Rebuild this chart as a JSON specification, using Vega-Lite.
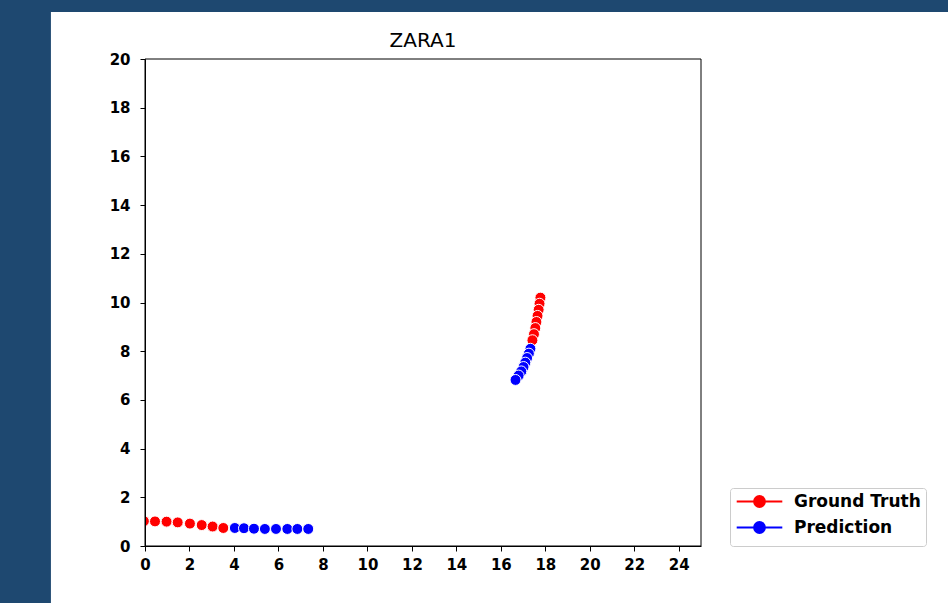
{
  "$schema": "https://vega.github.io/schema/vega-lite/v6.json",
  "width": 556,
  "height": 487,
  "autosize": {"type": "none"},
  "padding": {"left": 145, "top": 59, "right": 247, "bottom": 57},
  "background": "#1e4870",
  "config": {
    "view": {"stroke": null},
    "font": "DejaVu Sans",
    "axis": {"grid": false, "tickSize": 5, "tickColor": "black", "domainColor": "black", "labelColor": "black", "labelFont": "DejaVu Sans", "labelFontWeight": "bold", "labelFontSize": 15, "labelFlush": false, "labelOverlap": false},
    "axisX": {"labelPadding": 6},
    "axisY": {"labelPadding": 10},
    "legend": {"orient": "none", "legendX": 585,
      "symbolType": "M-3.8,0L3.8,0M-0.9,0A0.9,0.9,0,1,1,0.9,0A0.9,0.9,0,1,1,-0.9,0Z",
      "symbolSize": 144, "symbolStrokeWidth": 2, "symbolOffset": 16, "labelOffset": 26,
      "labelFont": "DejaVu Sans", "labelFontWeight": "bold", "labelFontSize": 17, "labelColor": "black", "labelBaseline": "middle",
      "rowPadding": 9, "padding": 5, "cornerRadius": 3}
  },
  "title": {"text": "ZARA1", "fontSize": 20, "fontWeight": "normal", "font": "DejaVu Sans", "color": "black", "baseline": "alphabetic", "offset": -55, "anchor": "middle", "frame": "group", "zindex": 1},
  "datasets": {
    "traj": [
      {"x": -0.05, "y": 1.02, "series": "Ground Truth"},
      {"x": 0.45, "y": 1.01, "series": "Ground Truth"},
      {"x": 0.97, "y": 1.0, "series": "Ground Truth"},
      {"x": 1.47, "y": 0.97, "series": "Ground Truth"},
      {"x": 2.02, "y": 0.92, "series": "Ground Truth"},
      {"x": 2.55, "y": 0.86, "series": "Ground Truth"},
      {"x": 3.04, "y": 0.8, "series": "Ground Truth"},
      {"x": 3.52, "y": 0.74, "series": "Ground Truth"},
      {"x": 4.04, "y": 0.74, "series": "Prediction"},
      {"x": 4.45, "y": 0.73, "series": "Prediction"},
      {"x": 4.9, "y": 0.71, "series": "Prediction"},
      {"x": 5.39, "y": 0.7, "series": "Prediction"},
      {"x": 5.89, "y": 0.7, "series": "Prediction"},
      {"x": 6.4, "y": 0.7, "series": "Prediction"},
      {"x": 6.85, "y": 0.7, "series": "Prediction"},
      {"x": 7.34, "y": 0.7, "series": "Prediction"},
      {"x": 17.78, "y": 10.2, "series": "Ground Truth"},
      {"x": 17.74, "y": 9.95, "series": "Ground Truth"},
      {"x": 17.7, "y": 9.7, "series": "Ground Truth"},
      {"x": 17.65, "y": 9.45, "series": "Ground Truth"},
      {"x": 17.6, "y": 9.2, "series": "Ground Truth"},
      {"x": 17.55, "y": 8.95, "series": "Ground Truth"},
      {"x": 17.49, "y": 8.7, "series": "Ground Truth"},
      {"x": 17.42, "y": 8.45, "series": "Ground Truth"},
      {"x": 17.33, "y": 8.1, "series": "Prediction"},
      {"x": 17.26, "y": 7.9, "series": "Prediction"},
      {"x": 17.18, "y": 7.72, "series": "Prediction"},
      {"x": 17.1, "y": 7.53, "series": "Prediction"},
      {"x": 17.02, "y": 7.35, "series": "Prediction"},
      {"x": 16.92, "y": 7.17, "series": "Prediction"},
      {"x": 16.8, "y": 7.0, "series": "Prediction"},
      {"x": 16.66, "y": 6.82, "series": "Prediction"}
    ],
    "panel": [{"x1": -4.23, "x2": 37, "y1": -3, "y2": 21.93}],
    "frame": [{"x1": 0, "x2": 25, "y1": 0, "y2": 20}]
  },
  "resolve": {"scale": {"color": "independent"}, "legend": {"color": "independent"}},
  "layer": [
    {
      "data": {"name": "panel"},
      "mark": {"type": "rect", "fill": "white", "clip": false},
      "encoding": {
        "x": {"field": "x1", "type": "quantitative", "axis": {"title": null, "zindex": 1}, "scale": {"domain": [0, 25], "nice": false, "zero": false}},
        "x2": {"field": "x2"},
        "y": {"field": "y1", "type": "quantitative", "axis": {"title": null, "zindex": 1}, "scale": {"domain": [0, 20], "nice": false, "zero": false}},
        "y2": {"field": "y2"}
      }
    },
    {
      "data": {"name": "traj"},
      "transform": [{"filter": "datum.series === 'Ground Truth'"}],
      "mark": {"type": "point", "filled": true, "size": 120, "stroke": "white", "strokeWidth": 1, "opacity": 1, "clip": true},
      "encoding": {
        "x": {"field": "x", "type": "quantitative", "axis": {"title": null, "zindex": 1}, "scale": {"domain": [0, 25], "nice": false, "zero": false}},
        "y": {"field": "y", "type": "quantitative", "axis": {"title": null, "zindex": 1}, "scale": {"domain": [0, 20], "nice": false, "zero": false}},
        "color": {"field": "series", "type": "nominal",
          "scale": {"domain": ["Ground Truth"], "range": ["#ff0000"]},
          "legend": {"legendY": 429, "title": "\u00a0", "titleOrient": "bottom", "titleFontSize": 22, "titlePadding": 9, "symbolStrokeColor": "#ff0000", "strokeColor": "#cccccc", "fillColor": "white", "zindex": 2}}
      }
    },
    {
      "data": {"name": "traj"},
      "transform": [{"filter": "datum.series === 'Prediction'"}],
      "mark": {"type": "point", "filled": true, "size": 120, "stroke": "white", "strokeWidth": 1, "opacity": 1, "clip": true},
      "encoding": {
        "x": {"field": "x", "type": "quantitative", "axis": {"title": null, "zindex": 1}, "scale": {"domain": [0, 25], "nice": false, "zero": false}},
        "y": {"field": "y", "type": "quantitative", "axis": {"title": null, "zindex": 1}, "scale": {"domain": [0, 20], "nice": false, "zero": false}},
        "color": {"field": "series", "type": "nominal",
          "scale": {"domain": ["Prediction"], "range": ["#0000ff"]},
          "legend": {"legendY": 455, "title": null, "symbolStrokeColor": "#0000ff", "zindex": 3}}
      }
    },
    {
      "data": {"name": "frame"},
      "mark": {"type": "rect", "fillOpacity": 0, "stroke": "black", "strokeWidth": 1, "clip": false},
      "encoding": {
        "x": {"field": "x1", "type": "quantitative", "axis": {"title": null, "zindex": 1}},
        "x2": {"field": "x2"},
        "y": {"field": "y1", "type": "quantitative", "axis": {"title": null, "zindex": 1}},
        "y2": {"field": "y2"}
      }
    }
  ]
}
